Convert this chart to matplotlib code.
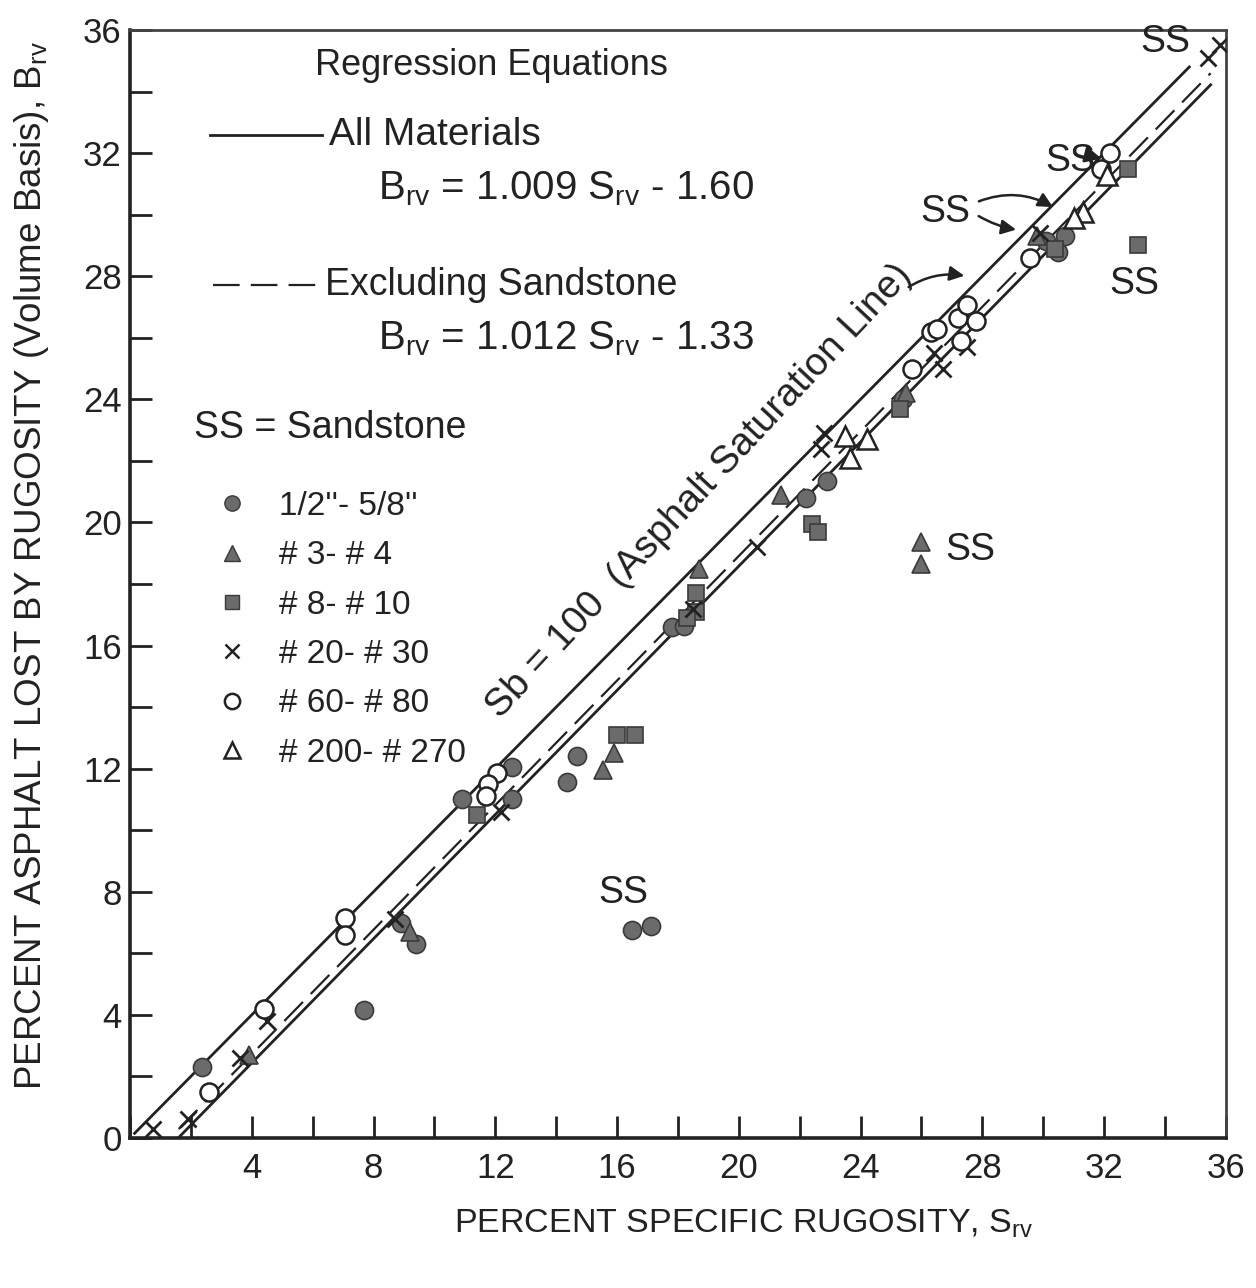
import matplotlib
matplotlib.use("Agg")
import matplotlib.pyplot as plt
import numpy as np
from matplotlib.lines import Line2D

plt.rcParams["font.family"] = ["Liberation Sans", "DejaVu Sans"]
plt.rcParams["mathtext.fontset"] = "custom"
plt.rcParams["mathtext.rm"] = "Liberation Sans"
plt.rcParams["mathtext.it"] = "Liberation Sans"

# ---- data (S_rv, B_rv) ----
# 1/2"-5/8"  (filled circles)
circ_s = [2.35, 7.7, 8.9, 9.4, 10.9, 12.55, 12.55, 14.35, 14.7, 16.5, 17.1,
          17.8, 18.2, 22.2, 22.9, 25.4, 30.1, 30.5, 30.7]
circ_b = [2.3, 4.15, 7.0, 6.3, 11.0, 12.05, 11.0, 11.55, 12.4, 6.75, 6.9,
          16.6, 16.65, 20.8, 21.35, 24.0, 29.15, 28.8, 29.3]

# #3-#4  (filled triangles)
tri_s = [3.9, 9.2, 15.55, 15.9, 18.7, 21.4, 25.5, 26.0, 26.0, 29.8]
tri_b = [2.7, 6.7, 11.95, 12.5, 18.5, 20.9, 24.2, 19.35, 18.65, 29.3]

# #8-#10  (filled squares)
sq_s = [11.4, 16.0, 16.6, 18.6, 18.6, 18.3, 22.4, 22.6, 25.3, 30.4, 32.8, 33.1]
sq_b = [10.5, 13.1, 13.1, 17.7, 17.1, 16.9, 19.95, 19.7, 23.7, 28.9, 31.5, 29.0]

# #20-#30  (crosses)
x_s = [0.76, 1.9, 3.6, 4.5, 8.7, 12.2, 18.5, 20.6, 22.8, 22.7, 26.4, 26.7,
       27.5, 29.9, 35.4, 35.8]
x_b = [0.3, 0.6, 2.6, 3.8, 7.1, 10.6, 17.2, 19.2, 22.9, 22.4, 25.5, 25.0,
       25.7, 29.4, 35.1, 35.5]

# #60-#80  (open circles)
oc_s = [2.6, 4.4, 7.06, 7.06, 12.05, 11.75, 11.7, 25.7, 26.3, 26.5, 27.2,
        27.5, 27.3, 27.8, 29.55, 32.2, 31.9]
oc_b = [1.5, 4.2, 7.14, 6.6, 11.85, 11.5, 11.1, 25.0, 26.2, 26.3, 26.65,
        27.05, 25.9, 26.55, 28.6, 32.0, 31.5]

# #200-#270  (open triangles)
ot_s = [23.5, 24.2, 23.65, 31.3, 31.0, 32.1]
ot_b = [22.8, 22.7, 22.1, 30.1, 29.9, 31.3]

# regression equations and saturation line
sat_range = [0.15, 34.8]
reg_range = [1.6, 35.5]
all_slope, all_icpt = 1.009, -1.60
exc_slope, exc_icpt = 1.012, -1.33

series_labels = ["1/2''- 5/8''", "# 3- # 4", "# 8- # 10", "# 20- # 30",
                 "# 60- # 80", "# 200- # 270"]

ink = "#222222"
fill = "#6b6b6b"

fig = plt.figure(figsize=(12.56, 12.88), dpi=100)
ax = fig.add_axes([0.1035, 0.1165, 0.8725, 0.8602])

# lines
s = np.array(sat_range)
ax.plot(s, s, color=ink, lw=2.0, zorder=2)
s = np.array(reg_range)
ax.plot(s, all_slope * s + all_icpt, color=ink, lw=2.0, zorder=2)
ax.plot(s, exc_slope * s + exc_icpt, color=ink, lw=1.6, dashes=(12, 5), zorder=2)

# points
ax.plot(circ_s, circ_b, "o", ms=13, mfc=fill, mec="#3a3a3a", mew=1.2, ls="none", zorder=3)
ax.plot(tri_s, tri_b, "^", ms=13, mfc=fill, mec="#3a3a3a", mew=1.2, ls="none", zorder=3)
ax.plot(sq_s, sq_b, "s", ms=11, mfc=fill, mec="#3a3a3a", mew=1.2, ls="none", zorder=3)
ax.plot(x_s, x_b, "x", ms=11, mec=ink, mew=2.0, ls="none", zorder=4)
ax.plot(oc_s, oc_b, "o", ms=13, mfc="white", mec=ink, mew=1.8, ls="none", zorder=4)
ax.plot(ot_s, ot_b, "^", ms=14, mfc="white", mec=ink, mew=1.8, ls="none", zorder=4)

ax.set_xlim(0, 36)
ax.set_ylim(0, 36)
ax.set_xticks(np.arange(0, 37, 2))
ax.set_yticks(np.arange(0, 37, 2))
ax.set_xticklabels(["" if (v % 4 or v == 0) else str(v) for v in range(0, 37, 2)])
ax.set_yticklabels(["" if v % 4 else str(v) for v in range(0, 37, 2)])
ax.tick_params(direction="in", length=16, width=2.0, colors=ink, labelsize=25)
ax.tick_params(axis="x", pad=10)
ax.tick_params(axis="y", pad=6)
for side in ["left", "bottom"]:
    ax.spines[side].set_linewidth(2.6)
    ax.spines[side].set_color(ink)
for side in ["top", "right"]:
    ax.spines[side].set_linewidth(2.0)
    ax.spines[side].set_color("#444444")

# axis titles
fig.text(0.025, 0.561, r"PERCENT ASPHALT LOST BY RUGOSITY (Volume Basis), B$_{\rm rv}$",
         rotation=90, ha="center", va="center", fontsize=26.5, color=ink)
fig.text(0.592, 0.05, r"PERCENT SPECIFIC RUGOSITY, S$_{\rm rv}$",
         ha="center", va="center", fontsize=24.5, color=ink)

# regression key
tA = ax.transAxes
ax.text(0.169, 0.968, "Regression Equations", transform=tA, fontsize=26,
        ha="left", va="center", color=ink)
ax.plot([0.073, 0.175], [0.905, 0.905], transform=tA, color=ink, lw=2.0)
ax.text(0.182, 0.905, "All Materials", transform=tA, fontsize=28,
        ha="left", va="center", color=ink)
ax.text(0.226, 0.847, r"B$_{\rm rv}$ = 1.009 S$_{\rm rv}$ - 1.60", transform=tA,
        fontsize=29, ha="left", va="baseline", color=ink)
ax.plot([0.076, 0.173], [0.770, 0.770], transform=tA, color=ink, lw=1.6, dashes=(12, 5))
ax.text(0.178, 0.770, "Excluding Sandstone", transform=tA, fontsize=27,
        ha="left", va="center", color=ink)
ax.text(0.226, 0.712, r"B$_{\rm rv}$ = 1.012 S$_{\rm rv}$ - 1.33", transform=tA,
        fontsize=29, ha="left", va="baseline", color=ink)
ax.text(0.058, 0.641, "SS = Sandstone", transform=tA, fontsize=27,
        ha="left", va="center", color=ink)

handles = [
    Line2D([], [], marker="o", ls="none", ms=11, mfc=fill, mec="#3a3a3a"),
    Line2D([], [], marker="^", ls="none", ms=11, mfc=fill, mec="#3a3a3a"),
    Line2D([], [], marker="s", ls="none", ms=10, mfc=fill, mec="#3a3a3a"),
    Line2D([], [], marker="x", ls="none", ms=10, mec=ink, mew=1.8),
    Line2D([], [], marker="o", ls="none", ms=11, mfc="white", mec=ink, mew=1.8),
    Line2D([], [], marker="^", ls="none", ms=12, mfc="white", mec=ink, mew=1.8),
]
leg = ax.legend(handles, series_labels, loc="upper left", bbox_to_anchor=(0.066, 0.596),
                frameon=False, fontsize=24, handlelength=1.0, handletextpad=0.9,
                labelspacing=0.55, borderaxespad=0)
for t in leg.get_texts():
    t.set_color(ink)

# saturation line label
ax.text(18.7, 21.0, "Sb = 100  (Asphalt Saturation Line)", fontsize=28, color=ink,
        rotation=47, rotation_mode="anchor", ha="center", va="center")
ax.annotate("", xy=(27.5, 28.0), xytext=(25.5, 27.6),
            arrowprops=dict(arrowstyle="-|>", color=ink, lw=1.8,
                            connectionstyle="arc3,rad=-0.2", mutation_scale=22))

# sandstone labels
ss_kw = dict(fontsize=27, color=ink, ha="center", va="center")
ax.text(34.0, 35.6, "SS", **ss_kw)
ax.text(30.9, 31.75, "SS", **ss_kw)
ax.annotate("", xy=(32.0, 31.8), xytext=(31.6, 31.9),
            arrowprops=dict(arrowstyle="-|>", color=ink, lw=2.0, mutation_scale=24))
ax.text(26.8, 30.1, "SS", **ss_kw)
ax.annotate("", xy=(30.4, 30.2), xytext=(27.8, 30.4),
            arrowprops=dict(arrowstyle="-|>", color=ink, lw=1.8,
                            connectionstyle="arc3,rad=-0.25", mutation_scale=22))
ax.annotate("", xy=(29.2, 29.5), xytext=(27.8, 30.0),
            arrowprops=dict(arrowstyle="-|>", color=ink, lw=1.8,
                            connectionstyle="arc3,rad=0.1", mutation_scale=22))
ax.text(33.0, 27.75, "SS", **ss_kw)
ax.text(27.6, 19.1, "SS", **ss_kw)
ax.text(16.2, 7.95, "SS", **ss_kw)

fig.savefig("out.png", dpi=100)
